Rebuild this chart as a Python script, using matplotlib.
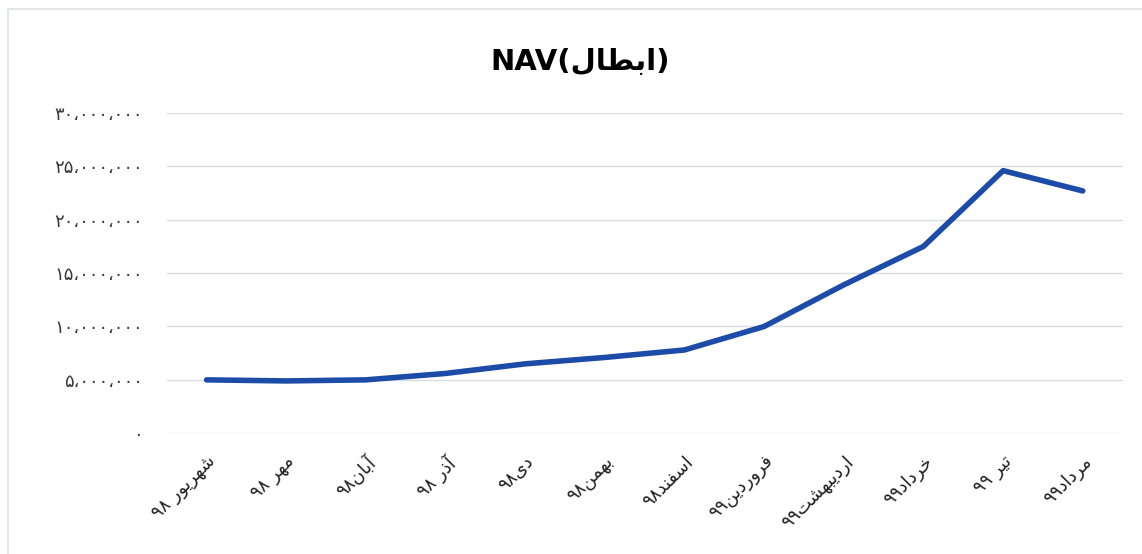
import matplotlib
matplotlib.use("Agg")
import matplotlib.pyplot as plt
from matplotlib.patches import Rectangle

# data
months = ["شهریور ۹۸", "مهر ۹۸", "آبان۹۸", "آذر ۹۸", "دی۹۸", "بهمن۹۸",
          "اسفند۹۸", "فروردین۹۹", "اردیبهشت۹۹", "خرداد۹۹", "تیر ۹۹", "مرداد۹۹"]
nav = [5.0e6, 4.9e6, 5.0e6, 5.6e6, 6.5e6, 7.1e6,
       7.8e6, 10.0e6, 13.9e6, 17.5e6, 24.6e6, 22.7e6]
yticks = [0, 5e6, 10e6, 15e6, 20e6, 25e6, 30e6]
title_en = "NAV"
title_fa = "ابطال"

# matplotlib has no arabic shaping, so do a small one by hand
# letter: (isolated, final, initial, medial); right-joining letters have only 2 forms
FORMS = {
    "ا": ("\uFE8D", "\uFE8E"), "آ": ("\uFE81", "\uFE82"),
    "د": ("\uFEA9", "\uFEAA"), "ذ": ("\uFEAB", "\uFEAC"),
    "ر": ("\uFEAD", "\uFEAE"), "و": ("\uFEED", "\uFEEE"),
    "ب": ("\uFE8F", "\uFE90", "\uFE91", "\uFE92"),
    "ت": ("\uFE95", "\uFE96", "\uFE97", "\uFE98"),
    "خ": ("\uFEA5", "\uFEA6", "\uFEA7", "\uFEA8"),
    "س": ("\uFEB1", "\uFEB2", "\uFEB3", "\uFEB4"),
    "ش": ("\uFEB5", "\uFEB6", "\uFEB7", "\uFEB8"),
    "ط": ("\uFEC1", "\uFEC2", "\uFEC3", "\uFEC4"),
    "ف": ("\uFED1", "\uFED2", "\uFED3", "\uFED4"),
    "ل": ("\uFEDD", "\uFEDE", "\uFEDF", "\uFEE0"),
    "م": ("\uFEE1", "\uFEE2", "\uFEE3", "\uFEE4"),
    "ن": ("\uFEE5", "\uFEE6", "\uFEE7", "\uFEE8"),
    "ه": ("\uFEE9", "\uFEEA", "\uFEEB", "\uFEEC"),
    "ی": ("\uFBFC", "\uFBFD", "\uFBFE", "\uFBFF"),
}
DIGITS = "۰۱۲۳۴۵۶۷۸۹،"


def shape(s):
    out = []
    for i, ch in enumerate(s):
        if ch not in FORMS:
            out.append(ch)
            continue
        f = FORMS[ch]
        prev = s[i - 1] if i > 0 else ""
        nxt = s[i + 1] if i + 1 < len(s) else ""
        join_prev = prev in FORMS and len(FORMS[prev]) == 4
        join_next = len(f) == 4 and nxt in FORMS
        if join_prev and join_next:
            out.append(f[3])
        elif join_prev:
            out.append(f[1])
        elif join_next:
            out.append(f[2])
        else:
            out.append(f[0])
    return "".join(out)


def rtl(s):
    # shape, then lay out right to left; digit runs stay left to right
    s = shape(s)
    tokens = []
    for ch in s:
        if ch in DIGITS and tokens and tokens[-1][0] in DIGITS:
            tokens[-1] += ch
        else:
            tokens.append(ch)
    return "".join(reversed(tokens))


def fa_num(v):
    txt = f"{int(v):,}".replace(",", "،")
    return txt.translate(str.maketrans("0123456789", "۰۱۲۳۴۵۶۷۸۹"))


plt.rcParams["font.family"] = ["DejaVu Sans"]

fig = plt.figure(figsize=(11.42, 5.54), dpi=100)
ax = fig.add_axes([0.146, 0.218, 0.837, 0.578])

x = list(range(len(months)))
ax.plot(x, nav, color="#1c4ca8", lw=4, solid_capstyle="round", solid_joinstyle="round", zorder=3)

ax.set_xlim(-0.5, len(months) - 0.5)
ax.set_ylim(0, 30e6)
ax.set_yticks(yticks)
ax.set_yticklabels([fa_num(v) for v in yticks], fontsize=13, color="#3a3a3a")
ax.set_xticks(x)
ax.set_xticklabels([rtl(m) for m in months], rotation=45, ha="right",
                   rotation_mode="anchor", fontsize=13, color="#222222")
ax.tick_params(length=0, pad=14)
ax.tick_params(axis="y", pad=17)
ax.grid(axis="y", color="#d9dde3", lw=1)
for sp in ax.spines.values():
    sp.set_visible(False)

fig.text(0.508, 0.888, title_en + "(" + rtl(title_fa) + ")", ha="center", va="center",
         fontsize=21, fontweight="bold")

# light frame around chart area
fig.patches.append(Rectangle((8 / 1142, -0.1), 1.1, 1.1 - 9 / 554,
                             transform=fig.transFigure, fill=False,
                             edgecolor="#dcdfe4", lw=1.2))

fig.savefig("out.png", dpi=100)
